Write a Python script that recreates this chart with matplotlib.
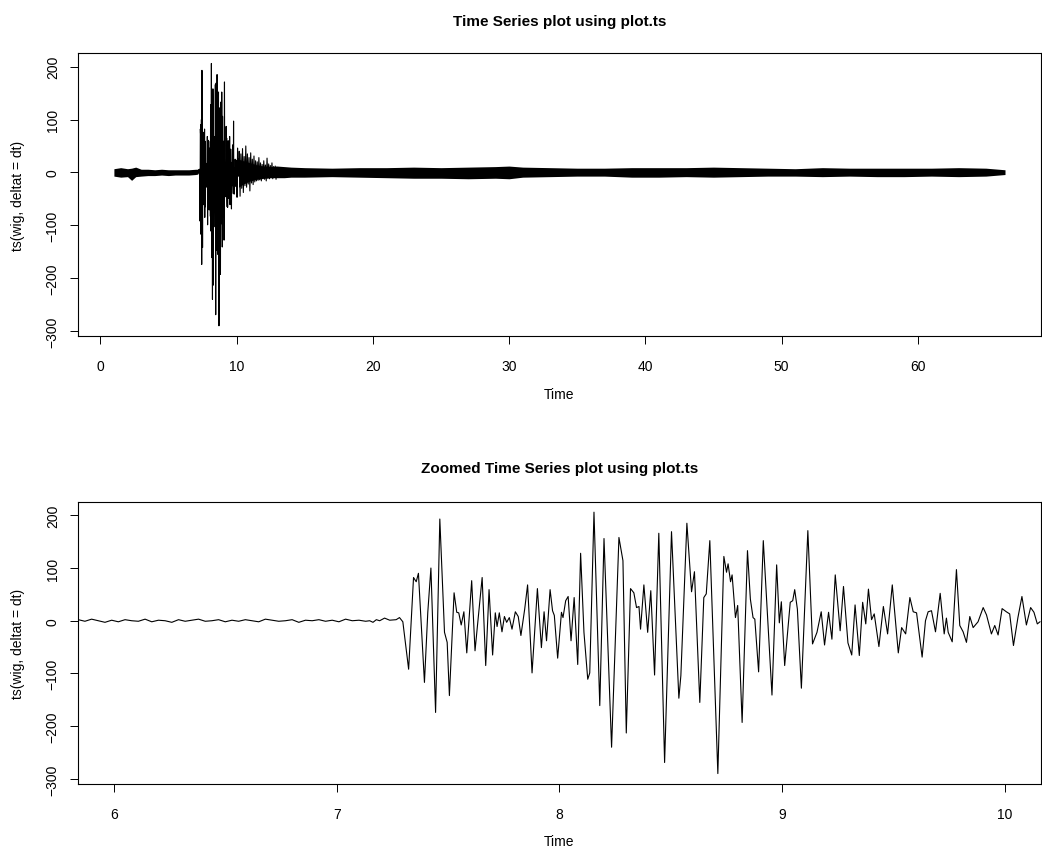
import numpy as np
import matplotlib
matplotlib.use("Agg")
import matplotlib.pyplot as plt

plt.rcParams['font.family'] = ['Liberation Sans', 'DejaVu Sans']

# turning points of the trace (time s, amplitude)
event_t = [7.148, 7.163, 7.178, 7.193, 7.215, 7.238, 7.267, 7.282, 7.297, 7.323,
           7.345, 7.357, 7.367, 7.394, 7.409, 7.423, 7.444, 7.463, 7.484, 7.496,
           7.506, 7.527, 7.539, 7.548, 7.559, 7.571, 7.584, 7.606, 7.621, 7.636,
           7.653, 7.669, 7.684, 7.700, 7.712, 7.720, 7.730, 7.742, 7.753, 7.763,
           7.775, 7.787, 7.802, 7.815, 7.827, 7.844, 7.857, 7.877, 7.901, 7.919,
           7.931, 7.942, 7.958, 7.969, 7.977, 7.992, 8.009, 8.016, 8.028, 8.039,
           8.052, 8.066, 8.082, 8.095, 8.110, 8.127, 8.136, 8.155, 8.181, 8.200,
           8.234, 8.267, 8.285, 8.300, 8.319, 8.334, 8.346, 8.357, 8.364, 8.379,
           8.396, 8.410, 8.427, 8.446, 8.472, 8.503, 8.536, 8.545, 8.572, 8.593,
           8.606, 8.630, 8.648, 8.659, 8.675, 8.711, 8.738, 8.750, 8.757, 8.768,
           8.775, 8.790, 8.800, 8.820, 8.844, 8.857, 8.869, 8.877, 8.894, 8.915,
           8.954, 8.975, 8.987, 8.996, 9.011, 9.036, 9.047, 9.056, 9.068, 9.086,
           9.115, 9.136, 9.156, 9.175, 9.190, 9.208, 9.223, 9.238, 9.260, 9.275,
           9.295, 9.312, 9.327, 9.346, 9.361, 9.375, 9.387, 9.401, 9.413, 9.434,
           9.454, 9.473, 9.494, 9.521, 9.536, 9.554, 9.573, 9.588, 9.603, 9.628,
           9.643, 9.655, 9.670, 9.688, 9.709, 9.727, 9.737, 9.745, 9.763, 9.782,
           9.797, 9.812, 9.827, 9.842, 9.857, 9.879, 9.902, 9.917, 9.939, 9.954,
           9.969, 9.987, 10.006, 10.021, 10.038, 10.058, 10.076, 10.096, 10.115, 10.130,
           10.145, 10.157]
event_v = [0, -3, 2, 0, 5, 1, 2, 6, -2, -92,
           82, 74, 90, -117, 16, 100, -174, 193, -22, -41,
           -142, 53, 16, 15, -8, 17, -61, 76, -57, 8,
           82, -85, 59, -65, 15, -11, 15, -21, 8, -3,
           6, -16, 17, 8, -28, 22, 68, -99, 61, -51,
           17, -38, 59, 19, 10, -71, 16, 6, 38, 46,
           -38, 44, -83, 128, -22, -111, -99, 206, -161, 156,
           -240, 158, 114, -213, 61, 53, 25, 27, -16, 68,
           -22, 57, -103, 166, -269, 169, -147, -104, 185, 55,
           93, -155, 44, 51, 152, -290, 122, 92, 108, 74,
           87, 6, 29, -193, 133, 41, 6, 3, -97, 152,
           -141, 106, -4, 36, -85, 35, 38, 59, 22, -128,
           171, -44, -22, 17, -46, 16, -35, 87, -19, 65,
           -42, -65, 30, -66, 35, -6, 60, 2, 13, -49,
           27, -25, 68, -61, -13, -25, 44, 17, 15, -69,
           0, 17, 19, -21, 52, -25, 5, -22, -40, 97,
           -9, -21, -41, 8, -13, -2, 25, 11, -25, -9,
           -27, 23, 17, 13, -47, 6, 46, -8, 25, 16,
           -6, -2]

# coda after the zoom window
coda_t = [10.20, 10.26, 10.32, 10.38, 10.44, 10.50, 10.56, 10.62, 10.68, 10.74,
          10.80, 10.86, 10.92, 10.98, 11.04, 11.10, 11.16, 11.22, 11.28, 11.34,
          11.40, 11.46, 11.52, 11.58, 11.64, 11.70, 11.76, 11.82, 11.88, 11.94,
          12.00, 12.06, 12.12, 12.18, 12.24, 12.30, 12.36, 12.42, 12.48, 12.54,
          12.60, 12.66, 12.72, 12.78, 12.84, 12.90, 12.96, 13.02]
coda_v = [40, -45, 35, -30, 45, -38, 30, -25, 50, -28,
          35, -22, 28, -35, 37, -20, 25, -23, 31, -18,
          22, -16, 20, -15, 28, -14, 18, -16, 15, -12,
          22, -13, 14, -16, 27, -11, 16, -12, 13, -10,
          18, -12, 11, -9, 12, -13, 10, -9]

# quiet noise before the onset, zoomed panel
pre_t = [5.84, 5.87, 5.90, 5.93, 5.96, 5.99, 6.02, 6.05, 6.08, 6.11,
         6.14, 6.17, 6.20, 6.23, 6.26, 6.29, 6.32, 6.35, 6.38, 6.41,
         6.44, 6.47, 6.50, 6.53, 6.56, 6.59, 6.62, 6.65, 6.68, 6.71,
         6.74, 6.77, 6.80, 6.83, 6.86, 6.89, 6.92, 6.95, 6.98, 7.01,
         7.04, 7.07, 7.10, 7.13]
pre_v = [2, -1, 3, 0, -3, 1, -2, 2, 0, -1,
         3, -2, 1, 0, -3, 2, -1, 1, 3, -1,
         0, 2, -2, 1, -1, 2, 0, -2, 3, 1,
         -1, 0, 2, -3, 1, 0, 2, -1, 1, -2,
         3, 0, 1, -1]

# envelope of the noise band in the full-length panel
band1_t = [1.0, 1.5, 2.0, 2.3, 2.6, 3.0, 3.5, 4.0, 4.5, 5.0, 5.5, 6.0, 6.5, 7.0, 7.15]
band1_hi = [7, 9, 7, 8, 10, 6, 6, 5, 6, 5, 5, 5, 5, 6, 6]
band1_lo = [-7, -9, -8, -15, -8, -7, -6, -6, -5, -6, -5, -5, -5, -4, -3]

band2_t = [10.15, 10.5, 11.0, 11.5, 12.0, 12.5, 13.0, 13.5, 14.0, 15, 17, 19, 21, 23,
           25, 27, 29, 30, 31, 33, 35, 37, 39, 41, 43, 45, 47, 49, 51, 53, 55,
           57, 59, 61, 63, 65, 66.4]
band2_hi = [25, 22, 18, 14, 12, 11, 12, 11, 10, 9, 8, 9, 9, 10,
            9, 10, 11, 12, 10, 9, 8, 8, 9, 9, 9, 10, 9, 8, 7, 9, 8,
            8, 8, 8, 9, 8, 5]
band2_lo = [-28, -22, -16, -13, -11, -10, -10, -10, -9, -9, -8, -9, -10, -11,
            -11, -12, -11, -12, -9, -8, -7, -7, -9, -9, -8, -9, -8, -7, -7, -8, -7,
            -8, -8, -7, -8, -7, -4]

t_start, t_end = 1.0, 66.4
ylab = "ts(wig, deltat = dt)"


def r_lim(lo, hi):
    pad = 0.04 * (hi - lo)
    return lo - pad, hi + pad


def style(ax, ticks):
    for s in ax.spines.values():
        s.set_linewidth(0.8)
    ax.set_xticks(ticks)
    ax.set_yticks([-300, -200, -100, 0, 100, 200])
    ax.tick_params(axis='x', length=5.8, width=0.7, pad=10.5, labelsize=10)
    ax.tick_params(axis='y', length=5.8, width=0.7, pad=7.5, labelsize=10)
    for lab in ax.get_yticklabels():
        lab.set_rotation(90)
        lab.set_va('center')


fig = plt.figure(figsize=(10.42, 8.62), dpi=100)
ax1 = fig.add_axes([0.0751, 0.6087, 0.9236, 0.3287])
ax2 = fig.add_axes([0.0751, 0.0893, 0.9236, 0.3275])

ylim = r_lim(min(event_v), max(event_v))

# full record
ax1.fill_between(band1_t, band1_lo, band1_hi, color='black', lw=0)
ax1.fill_between(band2_t, band2_lo, band2_hi, color='black', lw=0)
ax1.plot(event_t + coda_t, event_v + coda_v, color='black', lw=0.8)
ax1.set_xlim(r_lim(t_start, t_end))
ax1.set_ylim(ylim)
style(ax1, [0, 10, 20, 30, 40, 50, 60])

# zoomed window 6 - 10 s
ax2.plot(pre_t + event_t, pre_v + event_v, color='black', lw=0.8)
ax2.set_xlim(r_lim(6, 10))
ax2.set_ylim(ylim)
style(ax2, [6, 7, 8, 9, 10])

fig.text(0.5369, 0.9745, "Time Series plot using plot.ts", ha='center', va='center',
         fontsize=11, fontweight='bold')
fig.text(0.5369, 0.4559, "Zoomed Time Series plot using plot.ts", ha='center', va='center',
         fontsize=11, fontweight='bold')
fig.text(0.5369, 1 - 395 / 862, "Time", ha='center', va='center', fontsize=10)
fig.text(0.5369, 1 - 842 / 862, "Time", ha='center', va='center', fontsize=10)
fig.text(0.0168, 0.773, ylab, rotation=90, ha='center', va='center', fontsize=10)
fig.text(0.0168, 0.253, ylab, rotation=90, ha='center', va='center', fontsize=10)

fig.savefig("out.png", dpi=100)
